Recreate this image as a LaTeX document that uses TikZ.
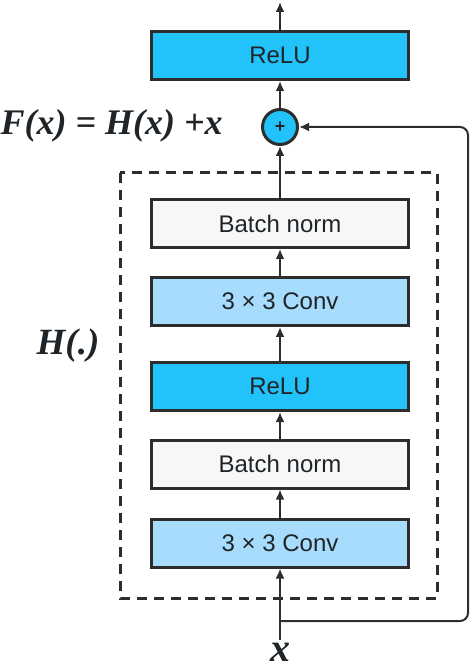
\documentclass[tikz,border=0pt]{standalone}
\usepackage{amssymb,amsmath}
\usepackage{fontspec}
\setsansfont{Liberation Sans}
\newfontfamily\eqfont{Liberation Serif}
\usetikzlibrary{arrows.meta}

\definecolor{relublue}{HTML}{22C3FB}
\definecolor{convblue}{HTML}{A8DCFD}
\definecolor{normgrey}{HTML}{F7F7F7}
\definecolor{edgegrey}{HTML}{2D2D2D}
\definecolor{textgrey}{HTML}{1E2428}

\begin{document}
\begin{tikzpicture}[x=0.5pt,y=-0.5pt,
        layer/.style={rectangle,draw=edgegrey,line width=1.5pt,minimum width=128.5pt,minimum height=24pt,inner sep=0pt,
            text=textgrey,font=\sffamily\fontsize{12}{14}\selectfont},
        sum/.style={circle,draw=edgegrey,fill=relublue,line width=1.5pt,minimum size=17.5pt,inner sep=0pt,
            text=textgrey,font=\sffamily\bfseries\fontsize{9}{10}\selectfont},
        eq/.style={inner sep=1pt,text=textgrey,font=\eqfont\bfseries\itshape},
        flow/.style={draw=edgegrey,line width=1pt,-{Latex[length=5pt,width=4.5pt]}},
        groupbox/.style={draw=edgegrey,line width=1.5pt,dash pattern=on 5pt off 3.5pt}]
    \useasboundingbox (0,0) rectangle (474,672);

    % Residual block
    \draw[groupbox] (120,173) rectangle (437,598);
    \node[eq,font=\eqfont\bfseries\itshape\fontsize{18.5}{20}\selectfont] (hlabel) at (68,346) {H(.)};

    % Layers, bottom to top
    \node[layer,fill=convblue] (conv1) at (280,543) {3 × 3 Conv};
    \node[layer,fill=normgrey] (norm1) at (280,464) {Batch norm};
    \node[layer,fill=relublue] (relu1) at (280,386.5) {ReLU};
    \node[layer,fill=convblue] (conv2) at (280,301.5) {3 × 3 Conv};
    \node[layer,fill=normgrey] (norm2) at (280,223.5) {Batch norm};

    % Addition and output
    \node[sum] (add) at (280,127) {+};
    \node[eq,anchor=east,font=\eqfont\bfseries\itshape\fontsize{18}{20}\selectfont] (flabel) at (225,126) {F(x) = H(x) +x};
    \node[layer,fill=relublue] (relu2) at (280,55.5) {ReLU};
    \coordinate (out) at (280,2);

    % Input and shortcut
    \node[eq,font=\eqfont\bfseries\itshape\fontsize{20}{22}\selectfont] (xin) at (280,652) {x};
    \coordinate (split) at (280,621);
    \coordinate (bend) at (468,621);

    % Edges in the block
    \draw[flow] (xin) -- (conv1);
    \draw[flow] (conv1) -- (norm1);
    \draw[flow] (norm1) -- (relu1);
    \draw[flow] (relu1) -- (conv2);
    \draw[flow] (conv2) -- (norm2);
    \draw[flow] (norm2) -- (add);

    % Shortcut to the sum
    \draw[flow,rounded corners=4pt] (split) -- (bend) |- (add.east);

    % Edges to the output
    \draw[flow] (add) -- (relu2);
    \draw[flow] (relu2) -- (out);
\end{tikzpicture}
\end{document}
